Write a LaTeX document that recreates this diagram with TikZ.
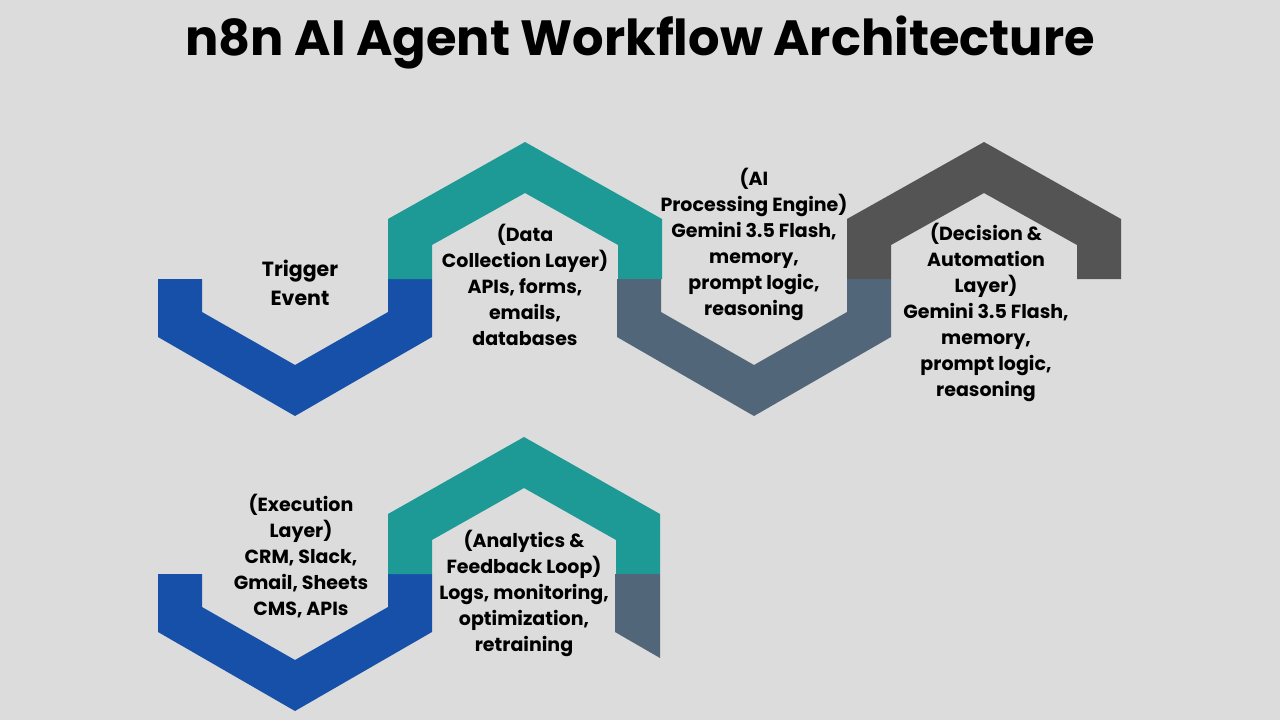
\documentclass[tikz,border=0pt]{standalone}
\usepackage{fontspec}
\setmainfont{Poppins}
\definecolor{bgc}{HTML}{DCDCDC}
\definecolor{blueband}{HTML}{1650A8}
\definecolor{tealband}{HTML}{1E9A96}
\definecolor{slateband}{HTML}{52667A}
\definecolor{darkband}{HTML}{545454}
\tikzset{
  label/.style={align=center,font=\fontsize{19}{26}\selectfont\bfseries,text=black,inner sep=0pt},
  biglabel/.style={align=center,font=\fontsize{20.5}{29}\selectfont\bfseries,text=black,inner sep=0pt},
  titletext/.style={font=\fontsize{49.5}{52}\selectfont\bfseries,text=black,inner sep=0pt}
}
\begin{document}
\begin{tikzpicture}[x=1pt,y=-1pt]
\fill[bgc] (0,0) rectangle (1280,720);
\useasboundingbox (0,0) rectangle (1280,720);
\node[titletext] (title) at (640,42) {n8n AI Agent Workflow Architecture};
% top row
\fill[blueband] (158,279)--(202,279)--(202,312)--(295,365)--(388,312)--(388,279)--(432,279)--(432,337)--(295,416)--(158,337)--cycle;
\fill[tealband] (388,279)--(388,219)--(525,142)--(662,219)--(662,279)--(618,279)--(618,245)--(525,193)--(432,245)--(432,279)--cycle;
\fill[slateband] (617,279)--(661,279)--(661,312)--(754,365)--(847,312)--(847,279)--(891,279)--(891,337)--(754,416)--(617,337)--cycle;
\fill[darkband] (847,279)--(847,219)--(984,142)--(1121,219)--(1121,279)--(1077,279)--(1077,245)--(984,193)--(891,245)--(891,279)--cycle;
% bottom row
\fill[blueband] (158,574)--(202,574)--(202,607)--(295,660)--(388,607)--(388,574)--(432,574)--(432,632)--(295,711)--(158,632)--cycle;
\fill[tealband] (388,574)--(388,514)--(524,437)--(660,514)--(660,574)--(616,574)--(616,540)--(524,488)--(432,540)--(432,574)--cycle;
\fill[slateband] (615,574)--(660,574)--(660,658)--(615,632)--cycle;
% labels
\node[biglabel] (trigger) at (300,282.5) {Trigger\\Event};
\node[label] (data) at (525,285) {(Data\\Collection Layer)\\APIs, forms,\\emails,\\databases};
\node[label] (ai) at (754,244.5) {(AI\\Processing Engine)\\Gemini 3.5 Flash,\\memory,\\prompt logic,\\reasoning};
\node[label] (decision) at (986,312) {(Decision \&\\Automation\\Layer)\\Gemini 3.5 Flash,\\memory,\\prompt logic,\\reasoning};
\node[label] (exec) at (301,556) {(Execution\\Layer)\\CRM, Slack,\\Gmail, Sheets\\CMS, APIs};
\node[label] (analytics) at (524,593) {(Analytics \&\\Feedback Loop)\\Logs, monitoring,\\optimization,\\retraining};
\end{tikzpicture}
\end{document}
